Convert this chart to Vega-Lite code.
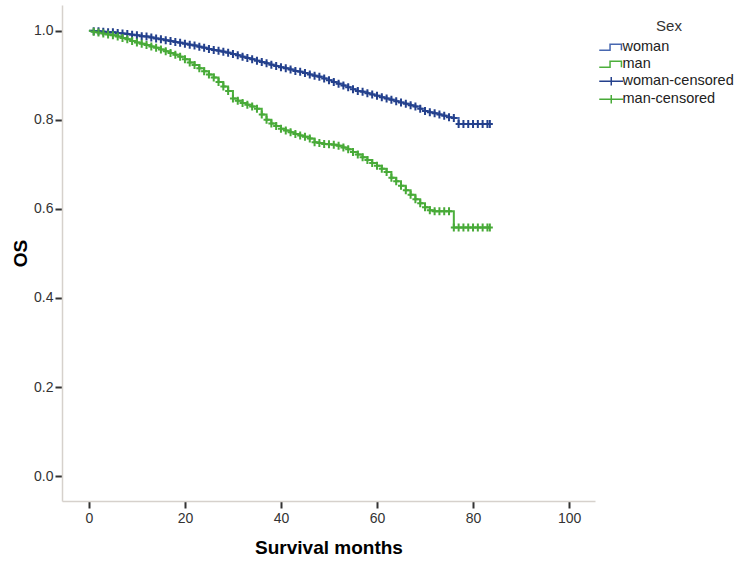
{
  "$schema": "https://vega.github.io/schema/vega-lite/v6.json",
  "width": 533,
  "height": 496,
  "autosize": {"type": "none"},
  "padding": {"left": 62, "top": 5, "right": 147, "bottom": 60},
  "background": "white",
  "config": {
    "view": {"stroke": null},
    "font": "Liberation Sans",
    "axis": {
      "grid": false,
      "domainColor": "#d6d1cc",
      "domainWidth": 1.5,
      "tickColor": "#333333",
      "tickWidth": 2,
      "tickSize": 7,
      "labelColor": "#333333",
      "labelFont": "Liberation Sans",
      "labelFontSize": 14,
      "titleFont": "Liberation Sans",
      "titleFontSize": 19,
      "titleFontWeight": "bold",
      "titleColor": "#000000"
    }
  },
  "datasets": {
    "woman": [
      {"t":0,"S":1.000},{"t":1,"S":0.999},{"t":2,"S":0.999},{"t":3,"S":0.998},{"t":4,"S":0.997},{"t":5,"S":0.997},{"t":6,"S":0.995},{"t":7,"S":0.994},{"t":8,"S":0.993},{"t":9,"S":0.991},
      {"t":10,"S":0.990},{"t":11,"S":0.988},{"t":12,"S":0.987},{"t":13,"S":0.985},{"t":14,"S":0.983},{"t":15,"S":0.981},{"t":16,"S":0.979},{"t":17,"S":0.977},{"t":18,"S":0.975},{"t":19,"S":0.973},
      {"t":20,"S":0.971},{"t":21,"S":0.969},{"t":22,"S":0.967},{"t":23,"S":0.964},{"t":24,"S":0.962},{"t":25,"S":0.959},{"t":26,"S":0.957},{"t":27,"S":0.955},{"t":28,"S":0.953},{"t":29,"S":0.951},
      {"t":30,"S":0.948},{"t":31,"S":0.945},{"t":32,"S":0.942},{"t":33,"S":0.939},{"t":34,"S":0.936},{"t":35,"S":0.933},{"t":36,"S":0.930},{"t":37,"S":0.927},{"t":38,"S":0.924},{"t":39,"S":0.921},
      {"t":40,"S":0.918},{"t":41,"S":0.916},{"t":42,"S":0.913},{"t":43,"S":0.910},{"t":44,"S":0.908},{"t":45,"S":0.905},{"t":46,"S":0.902},{"t":47,"S":0.899},{"t":48,"S":0.897},{"t":49,"S":0.893},
      {"t":50,"S":0.889},{"t":51,"S":0.885},{"t":52,"S":0.881},{"t":53,"S":0.877},{"t":54,"S":0.873},{"t":55,"S":0.869},{"t":56,"S":0.865},{"t":57,"S":0.863},{"t":58,"S":0.860},{"t":59,"S":0.857},
      {"t":60,"S":0.854},{"t":61,"S":0.851},{"t":62,"S":0.848},{"t":63,"S":0.845},{"t":64,"S":0.842},{"t":65,"S":0.839},{"t":66,"S":0.836},{"t":67,"S":0.833},{"t":68,"S":0.830},{"t":69,"S":0.825},
      {"t":70,"S":0.820},{"t":71,"S":0.817},{"t":72,"S":0.815},{"t":73,"S":0.812},{"t":74,"S":0.809},{"t":75,"S":0.806},{"t":76,"S":0.804},{"t":77,"S":0.791},{"t":78,"S":0.791},{"t":79,"S":0.791},
      {"t":80,"S":0.791},{"t":81,"S":0.791},{"t":82,"S":0.791},{"t":83,"S":0.791},{"t":83.5,"S":0.791}
    ],
    "man": [
      {"t":0,"S":1.000},{"t":1,"S":0.998},{"t":2,"S":0.996},{"t":3,"S":0.994},{"t":4,"S":0.992},{"t":5,"S":0.990},{"t":6,"S":0.987},{"t":7,"S":0.984},{"t":8,"S":0.981},{"t":9,"S":0.977},
      {"t":10,"S":0.974},{"t":11,"S":0.971},{"t":12,"S":0.968},{"t":13,"S":0.965},{"t":14,"S":0.962},{"t":15,"S":0.958},{"t":16,"S":0.954},{"t":17,"S":0.950},{"t":18,"S":0.946},{"t":19,"S":0.942},
      {"t":20,"S":0.936},{"t":21,"S":0.929},{"t":22,"S":0.923},{"t":23,"S":0.916},{"t":24,"S":0.909},{"t":25,"S":0.902},{"t":26,"S":0.895},{"t":27,"S":0.885},{"t":28,"S":0.875},{"t":29,"S":0.865},
      {"t":30,"S":0.848},{"t":31,"S":0.843},{"t":32,"S":0.838},{"t":33,"S":0.834},{"t":34,"S":0.830},{"t":35,"S":0.825},{"t":36,"S":0.812},{"t":37,"S":0.800},{"t":38,"S":0.792},{"t":39,"S":0.786},
      {"t":40,"S":0.780},{"t":41,"S":0.776},{"t":42,"S":0.772},{"t":43,"S":0.768},{"t":44,"S":0.765},{"t":45,"S":0.762},{"t":46,"S":0.758},{"t":47,"S":0.750},{"t":48,"S":0.748},{"t":49,"S":0.746},
      {"t":50,"S":0.745},{"t":51,"S":0.744},{"t":52,"S":0.742},{"t":53,"S":0.738},{"t":54,"S":0.734},{"t":55,"S":0.728},{"t":56,"S":0.722},{"t":57,"S":0.716},{"t":58,"S":0.710},{"t":59,"S":0.703},
      {"t":60,"S":0.697},{"t":61,"S":0.690},{"t":62,"S":0.683},{"t":63,"S":0.670},{"t":64,"S":0.662},{"t":65,"S":0.652},{"t":66,"S":0.642},{"t":67,"S":0.632},{"t":68,"S":0.622},{"t":69,"S":0.613},
      {"t":70,"S":0.604},{"t":71,"S":0.597},{"t":72,"S":0.595},{"t":73,"S":0.595},{"t":74,"S":0.595},{"t":75,"S":0.595},{"t":76,"S":0.558},{"t":77,"S":0.558},{"t":78,"S":0.558},{"t":79,"S":0.558},
      {"t":80,"S":0.558},{"t":81,"S":0.558},{"t":82,"S":0.558},{"t":83,"S":0.558},{"t":83.5,"S":0.558}
    ]
  },
  "encoding": {
    "x": {
      "field": "t", "type": "quantitative",
      "scale": {"domain": [-5.6, 105.4], "nice": false, "zero": false},
      "axis": {"values": [0, 20, 40, 60, 80, 100], "title": "Survival months", "labelPadding": 3, "titlePadding": 13}
    },
    "y": {
      "field": "S", "type": "quantitative",
      "scale": {"domain": [-0.056, 1.058], "nice": false, "zero": false},
      "axis": {"values": [0, 0.2, 0.4, 0.6, 0.8, 1.0], "format": ".1f", "title": "OS", "labelPadding": 2, "titlePadding": 3}
    }
  },
  "layer": [
    {
      "data": {"name": "woman"},
      "mark": {"type": "line", "interpolate": "step-after", "strokeWidth": 2},
      "encoding": {
        "color": {
          "datum": "woman",
          "scale": {
            "domain": ["woman", "man", "woman-censored", "man-censored"],
            "range": ["#4767b0", "#4caf3c", "#24408c", "#48aa38"]
          },
          "legend": {
            "title": "Sex",
            "orient": "none",
            "legendX": 542,
            "legendY": 14,
            "titleAnchor": "middle",
            "titleFont": "Liberation Sans",
            "titleFontSize": 15,
            "titleFontWeight": "normal",
            "titleColor": "#333333",
            "titlePadding": 6,
            "labelFont": "Liberation Sans",
            "labelFontSize": 14.5,
            "labelColor": "#222222",
            "labelOffset": 4,
            "rowPadding": 2,
            "symbolSize": 144,
            "symbolStrokeWidth": 1.5,
            "encode": {
              "symbols": {
                "update": {
                  "shape": {"signal": "(datum.value == 'woman' || datum.value == 'man') ? 'M-2,0.5H-0.2V-0.5H1.7V0.5' : 'M-2,0H2M0,-0.7V0.7'"},
                  "fill": {"value": "transparent"},
                  "stroke": {"scale": "color", "field": "value"},
                  "strokeWidth": {"value": 1.5},
                  "opacity": {"value": 1}
                }
              }
            }
          }
        }
      }
    },
    {
      "data": {"name": "man"},
      "mark": {"type": "line", "interpolate": "step-after", "strokeWidth": 2},
      "encoding": {"color": {"datum": "man"}}
    },
    {
      "data": {"name": "woman"},
      "transform": [{"filter": "datum.t >= 1"}],
      "mark": {"type": "point", "shape": "M-0.75,0H0.75M0,-1V1", "filled": false, "size": 64, "strokeWidth": 2, "opacity": 1},
      "encoding": {"color": {"datum": "woman-censored"}}
    },
    {
      "data": {"name": "man"},
      "transform": [{"filter": "datum.t >= 1"}],
      "mark": {"type": "point", "shape": "M-0.75,0H0.75M0,-1V1", "filled": false, "size": 64, "strokeWidth": 2, "opacity": 1},
      "encoding": {"color": {"datum": "man-censored"}}
    }
  ]
}
